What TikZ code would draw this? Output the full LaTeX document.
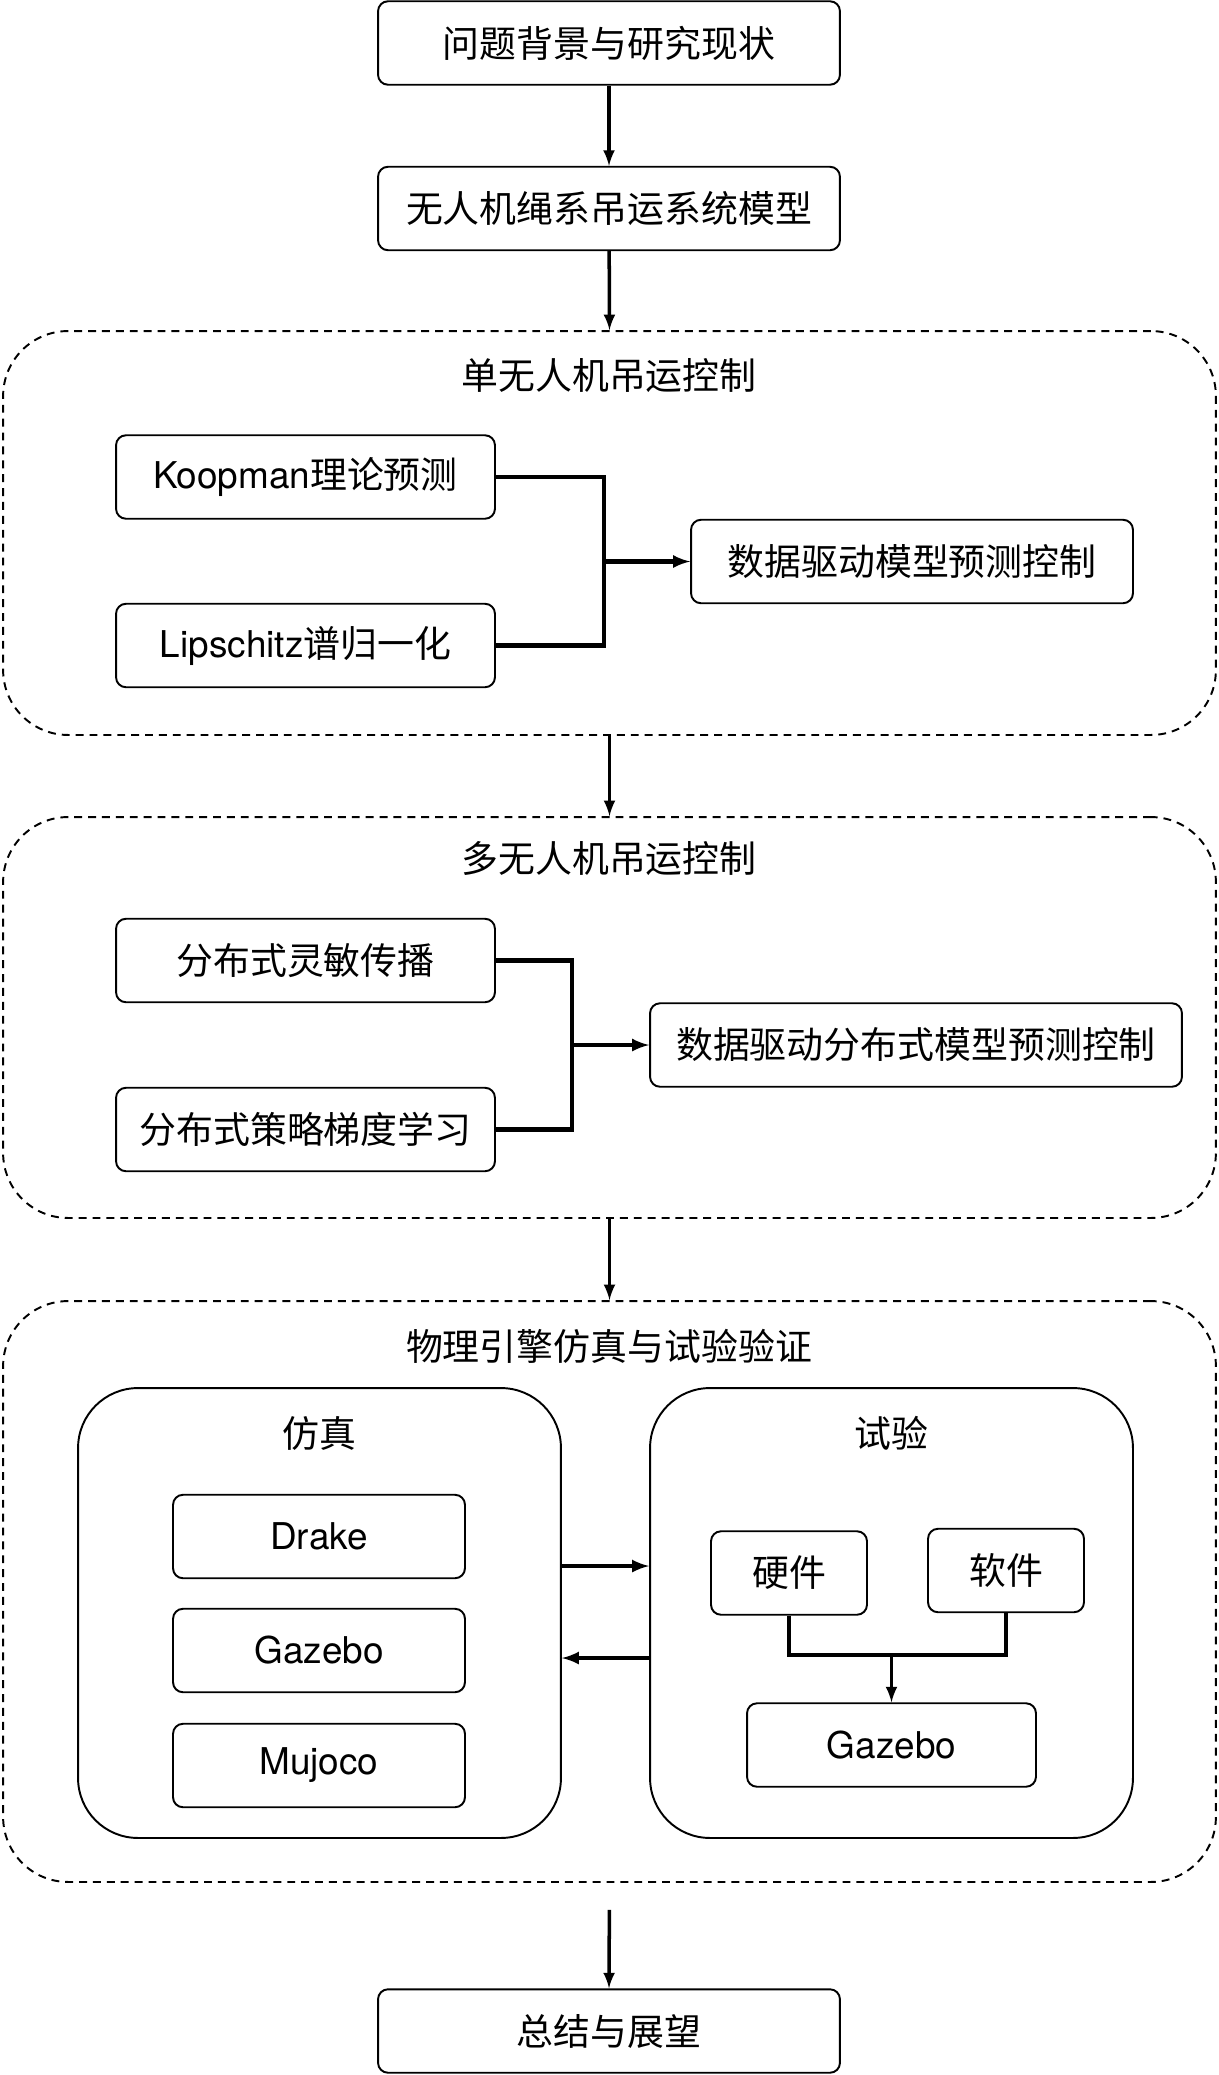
\documentclass[tikz,border=0pt]{standalone}
\usepackage{fontspec}
\setmainfont{Noto Sans CJK SC}
\newfontfamily\heros{TeX Gyre Heros}
\usetikzlibrary{shapes.geometric, arrows}
\tikzstyle{txt} = [font=\fontsize{21}{25}\selectfont]
\tikzstyle{box} = [txt, rectangle, rounded corners=0.2cm, draw=black, line width=1.1pt, inner sep=0, minimum height=1.67cm, text centered]
\tikzstyle{group} = [rectangle, rounded corners=1.3cm, draw=black, line width=1.1pt, dash pattern=on 4.5pt off 3.4pt, inner sep=0, minimum width=24.26cm]
\tikzstyle{panel} = [rectangle, rounded corners=1.2cm, draw=black, line width=1.1pt, inner sep=0, minimum width=9.66cm, minimum height=9cm]
\tikzstyle{arrow} = [line width=2pt,->,>=latex]
\tikzstyle{link} = [line width=2.3pt]
\begin{document}
\begin{tikzpicture}[x=0.02cm,y=-0.02cm]
\useasboundingbox (0,0) rectangle (1219,2075);
% top of the chain
\node[box,minimum width=9.24cm] (bg) at (609,43) {问题背景与研究现状};
\node[box,minimum width=9.24cm] (model) at (609,208.5) {无人机绳系吊运系统模型};
% single uav
\node[group,minimum height=8.08cm] (single) at (609.5,533) {};
\node[txt] (singletitle) at (609,376) {单无人机吊运控制};
\node[box,minimum width=7.58cm] (koop) at (305.5,477) {{\heros Koopman}理论预测};
\node[box,minimum width=7.58cm] (lips) at (305.5,645.5) {{\heros Lipschitz}谱归一化};
\node[box,minimum width=8.84cm] (ddmpc) at (912,561.5) {数据驱动模型预测控制};
\coordinate (jn1) at (604,561.5);
% multi uav
\node[group,minimum height=8.02cm] (multi) at (609.5,1017.5) {};
\node[txt] (multititle) at (609,859) {多无人机吊运控制};
\node[box,minimum width=7.58cm] (sens) at (305.5,960.5) {分布式灵敏传播};
\node[box,minimum width=7.58cm] (pg) at (305.5,1129.5) {分布式策略梯度学习};
\node[box,minimum width=10.64cm] (dmpc) at (916,1045) {数据驱动分布式模型预测控制};
\coordinate (jn2) at (572,1045);
% physics engine
\node[group,minimum height=11.62cm] (phys) at (609.5,1591.5) {};
\node[txt] (phystitle) at (609,1346) {物理引擎仿真与试验验证};
\node[panel] (sim) at (319.5,1613) {};
\node[txt] (simtitle) at (319.5,1433) {仿真};
\node[box,minimum width=5.84cm] (drake) at (319,1536.5) {\heros Drake};
\node[box,minimum width=5.84cm] (gazebo) at (319,1650.5) {\heros Gazebo};
\node[box,minimum width=5.84cm] (mujoco) at (319,1765.5) {\heros Mujoco};
\node[panel] (exp) at (891.5,1613) {};
\node[txt] (exptitle) at (891.5,1433) {试验};
\node[box,minimum width=3.12cm] (hw) at (789,1573) {硬件};
\node[box,minimum width=3.12cm] (sw) at (1006,1570.5) {软件};
\node[box,minimum width=5.78cm] (gzexp) at (891.5,1745) {\heros Gazebo};
\coordinate (jn3) at (891.5,1655);
% end
\node[box,minimum width=9.24cm] (end) at (609,2031) {总结与展望};

\draw[arrow] (bg) -- (model);
\draw[arrow] (model) -- (single.north);
\draw[link] (koop.east) -| (jn1);
\draw[link] (lips.east) -| (jn1);
\draw[arrow,line width=2.3pt] (jn1) -- (ddmpc.west);
\draw[arrow] (single.south) -- (multi.north);
\draw[link] (sens.east) -| (jn2);
\draw[link] (pg.east) -| (jn2);
\draw[arrow,line width=2.3pt] (jn2) -- (dmpc.west);
\draw[arrow] (multi.south) -- (phys.north);
\draw[arrow,line width=2.3pt] ([yshift=0.94cm]sim.east) -- ([yshift=0.94cm]exp.west);
\draw[arrow,line width=2.3pt] ([yshift=-0.9cm]exp.west) -- ([yshift=-0.9cm]sim.east);
\draw[link] (hw.south) |- (jn3);
\draw[link] (sw.south) |- (jn3);
\draw[arrow] (jn3) -- (gzexp.north);
\draw[arrow,shorten <=0.54cm] (phys.south) -- (end.north);
\end{tikzpicture}
\end{document}
